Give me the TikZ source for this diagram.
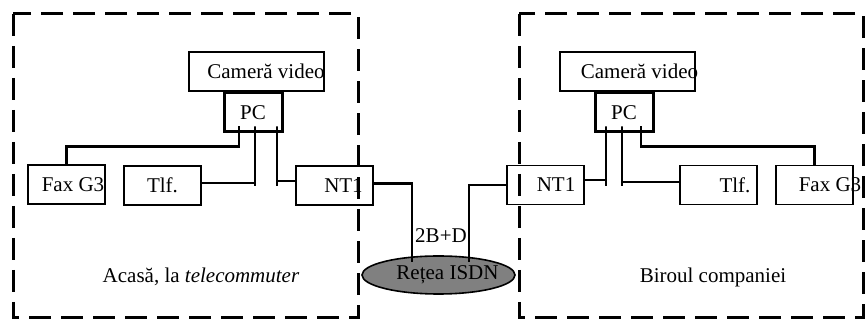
\documentclass[tikz,border=0pt]{standalone}
\usepackage{fontspec}
\setmainfont{Liberation Serif}
\usetikzlibrary{shapes.geometric}
\newcommand{\offtext}[2]{\hspace*{#1}\makebox[0pt]{#2}}
\tikzset{
  box/.style={draw,line width=1.6pt,rectangle,minimum width=77pt,minimum height=39pt,inner sep=0pt},
  pcbox/.style={draw,line width=3pt,rectangle,minimum width=58pt,minimum height=39pt,inner sep=0pt},
  cambox/.style={box,minimum width=135pt},
  wire/.style={line width=2.6pt},
  zone/.style={line width=3pt,dash pattern=on 22pt off 10pt},
}
\begin{document}
\begin{tikzpicture}[x=1pt,y=-1pt,font=\fontsize{21}{25}\selectfont]
  \useasboundingbox (0,0) rectangle (865,320);
  \draw [zone] (13,14) rectangle (358,318);
  \draw [zone] (519,14) rectangle (863,318);
  % home side
  \node (camL) at (256.5,71.5) [cambox] {\offtext{19pt}{Cameră video}};
  \node (pcL) at (253,112.5) [pcbox] {PC};
  \node (faxL) at (66.5,184.5) [box] {\offtext{13pt}{Fax G3}};
  \node (tlfL) at (162.5,185.5) [box] {Tlf.};
  \node (nt1L) at (334.5,185.5) [box] {\offtext{18pt}{NT1}};
  \node (homelabel) at (201,277) {Acasă, la \textit{telecommuter}};
  % office side
  \node (camR) at (627.5,71.5) [cambox] {\offtext{24pt}{Cameră video}};
  \node (pcR) at (624,112.5) [pcbox] {PC};
  \node (nt1R) at (545.5,185) [box] {\offtext{21pt}{NT1}};
  \node (tlfR) at (718.5,185) [box] {\offtext{33pt}{Tlf.}};
  \node (faxR) at (814.5,185) [box] {\offtext{31pt}{Fax G3}};
  \node (officelabel) at (713,277) {Biroul companiei};
  % network
  \node (isdn) at (438.5,275) [ellipse,draw,line width=1.6pt,fill=gray,minimum width=153pt,minimum height=38pt,inner sep=0pt] {\offtext{18pt}{Rețea ISDN}};
  \node (bw) at (441,236) {2B+D};
  % ports
  \coordinate (pL1) at ([xshift=-14pt,yshift=7pt]pcL.south);
  \coordinate (pL2) at ([xshift=2pt,yshift=7pt]pcL.south);
  \coordinate (pL3) at ([xshift=24pt,yshift=7pt]pcL.south);
  \coordinate (pR1) at ([xshift=-18pt,yshift=7pt]pcR.south);
  \coordinate (pR2) at ([xshift=-2pt,yshift=7pt]pcR.south);
  \coordinate (pR3) at ([xshift=17pt,yshift=7pt]pcR.south);
  % wires
  \draw [wire] (pL1) -- ++(0,20) -| (faxL.north);
  \draw [wire] ([yshift=2.5pt]tlfL.east) -| (pL2) -- ++(0,60);
  \draw [wire] ([yshift=4.5pt]nt1L.west) -| (pL3) -- ++(0,60);
  \draw [wire] ([yshift=2pt]nt1L.east) -| ([xshift=-26.5pt,yshift=13pt]isdn.center);
  \draw [wire] (nt1R.west) -| ([xshift=30.5pt,yshift=13pt]isdn.center);
  \draw [wire] ([yshift=5pt]nt1R.east) -| (pR1) -- ++(0,60);
  \draw [wire] ([yshift=3pt]tlfR.west) -| (pR2) -- ++(0,60);
  \draw [wire] (pR3) -- ++(0,20) -| (faxR.north);
\end{tikzpicture}
\end{document}
